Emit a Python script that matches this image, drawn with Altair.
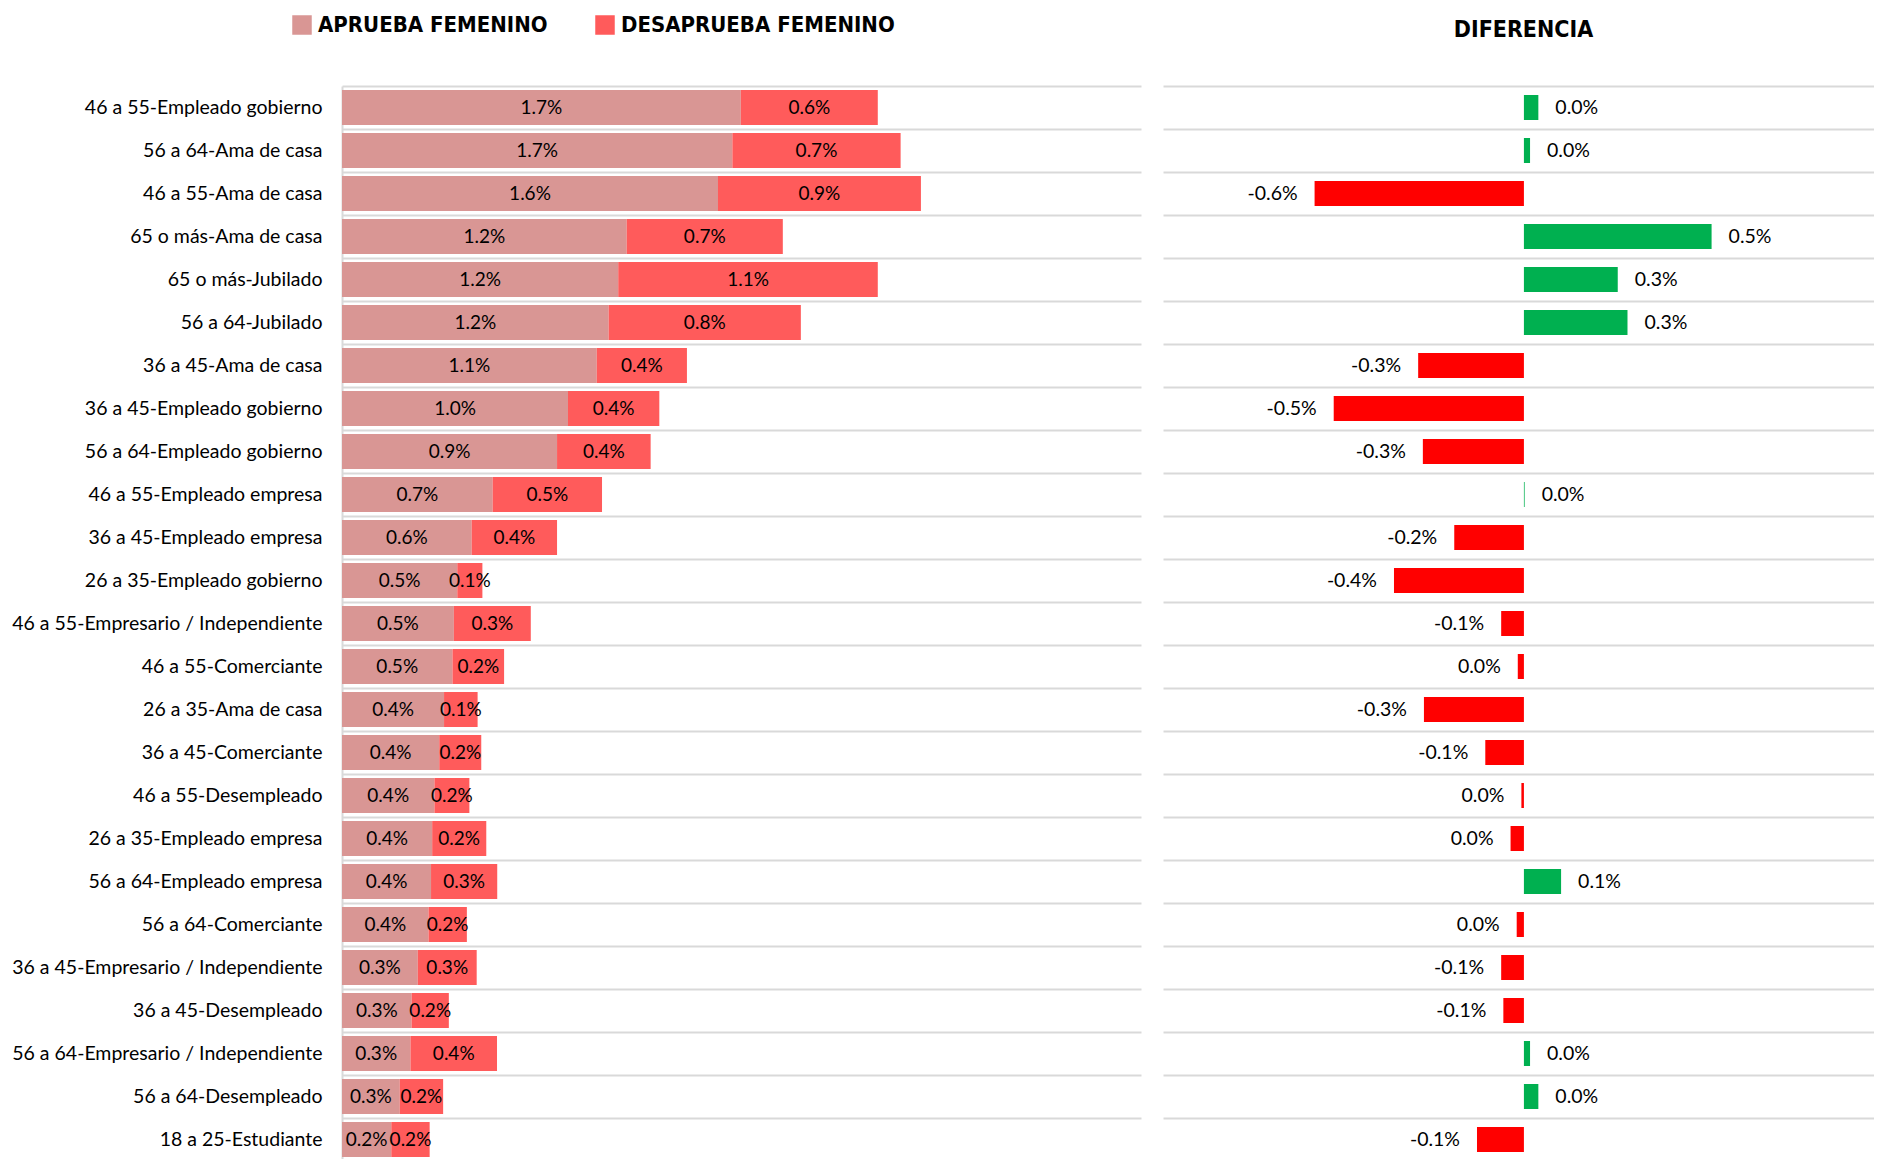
import altair as alt
import pandas as pd

categories = [
    "46 a 55-Empleado gobierno",
    "56 a 64-Ama de casa",
    "46 a 55-Ama de casa",
    "65 o más-Ama de casa",
    "65 o más-Jubilado",
    "56 a 64-Jubilado",
    "36 a 45-Ama de casa",
    "36 a 45-Empleado gobierno",
    "56 a 64-Empleado gobierno",
    "46 a 55-Empleado empresa",
    "36 a 45-Empleado empresa",
    "26 a 35-Empleado gobierno",
    "46 a 55-Empresario / Independiente",
    "46 a 55-Comerciante",
    "26 a 35-Ama de casa",
    "36 a 45-Comerciante",
    "46 a 55-Desempleado",
    "26 a 35-Empleado empresa",
    "56 a 64-Empleado empresa",
    "56 a 64-Comerciante",
    "36 a 45-Empresario / Independiente",
    "36 a 45-Desempleado",
    "56 a 64-Empresario / Independiente",
    "56 a 64-Desempleado",
    "18 a 25-Estudiante",
]

# values in percent
aprueba = [1.747, 1.71, 1.647, 1.247, 1.21, 1.168, 1.116, 0.99, 0.942, 0.66,
           0.568, 0.505, 0.49, 0.484, 0.447, 0.426, 0.405, 0.395, 0.39, 0.379,
           0.332, 0.305, 0.30, 0.253, 0.216]
desaprueba = [0.60, 0.737, 0.889, 0.684, 1.137, 0.842, 0.395, 0.40, 0.41, 0.479,
              0.374, 0.11, 0.337, 0.226, 0.147, 0.184, 0.153, 0.237, 0.29, 0.168,
              0.258, 0.163, 0.379, 0.19, 0.168]
diferencia = [0.04, 0.017, -0.58, 0.52, 0.26, 0.287, -0.293, -0.527, -0.28, 0.002,
              -0.193, -0.36, -0.063, -0.017, -0.277, -0.107, -0.007, -0.037, 0.103, -0.02,
              -0.063, -0.057, 0.017, 0.04, -0.13]

SER_A = "APRUEBA FEMENINO"
SER_D = "DESAPRUEBA FEMENINO"
series_names = [SER_A, SER_D]
series_colors = ["#d99694", "#ff5b5b"]

rows = []
for c, a, d in zip(categories, aprueba, desaprueba):
    rows.append({"cat": c, "serie": SER_A, "v": a / 100, "start": 0.0, "end": a / 100})
    rows.append({"cat": c, "serie": SER_D, "v": d / 100, "start": a / 100, "end": (a + d) / 100})
df = pd.DataFrame(rows)
df["mid"] = (df["start"] + df["end"]) / 2

dfd = pd.DataFrame({"cat": categories, "d": [v / 100 for v in diferencia]})

STEP = 43
H = STEP * len(categories)
GRID = "#d9d9d9"
FONT = "Lato"
HEAD = "'DejaVu Sans Condensed', 'Roboto Condensed', Roboto, sans-serif"

y_left = alt.Y(
    "cat:N", sort=categories, title=None,
    scale=alt.Scale(domain=categories, paddingInner=0, paddingOuter=0),
    axis=alt.Axis(labelFont=FONT, labelFontSize=19.5, labelColor="#000000",
                  labelPadding=20, ticks=False, domain=True, domainColor=GRID,
                  domainWidth=2, grid=True, gridColor=GRID, gridWidth=2,
                  bandPosition=0, labelLimit=500),
)

base_l = alt.Chart(df)
bars_l = base_l.mark_bar(size=35).encode(
    y=y_left,
    x=alt.X("start:Q", scale=alt.Scale(domain=[0, 0.035]), axis=None),
    x2="end:Q",
    color=alt.Color(
        "serie:N",
        scale=alt.Scale(domain=series_names, range=series_colors),
        legend=alt.Legend(title=None, orient="none", legendX=-51, legendY=-72,
                          direction="horizontal", symbolType="square",
                          symbolSize=380, symbolStrokeWidth=0, symbolOpacity=1,
                          labelFont=HEAD, labelFontWeight="bold", labelFontSize=22,
                          labelColor="#000000", columnPadding=46, labelOffset=5,
                          labelLimit=600),
    ),
)
text_l = base_l.mark_text(font=FONT, fontSize=19, color="#000000").encode(
    y=y_left,
    x=alt.X("mid:Q", scale=alt.Scale(domain=[0, 0.035]), axis=None),
    text=alt.Text("v:Q", format=".1%"),
)
left = alt.layer(bars_l, text_l).properties(width=799, height=H)

y_right = alt.Y(
    "cat:N", sort=categories, title=None,
    scale=alt.Scale(domain=categories, paddingInner=0, paddingOuter=0),
    axis=alt.Axis(labels=False, ticks=False, domain=False, grid=True,
                  gridColor=GRID, gridWidth=2, bandPosition=0),
)
xr = alt.X("d:Q", scale=alt.Scale(domain=[-0.01, 0.0097]), axis=None)
base_r = alt.Chart(dfd).transform_calculate(
    lab="replace(format(datum.d, '.1%'), '\u2212', '-')"
)
bars_r = base_r.mark_bar(size=25).encode(
    y=y_right, x=xr,
    color=alt.condition("datum.d >= 0", alt.value("#00b050"), alt.value("#ff0000")),
)
pos_t = base_r.transform_filter("datum.d >= 0").mark_text(
    font=FONT, fontSize=19.5, color="#000000", align="left", dx=17
).encode(y=y_right, x=xr, text="lab:N")
neg_t = base_r.transform_filter("datum.d < 0").mark_text(
    font=FONT, fontSize=19.5, color="#000000", align="right", dx=-17
).encode(y=y_right, x=xr, text="lab:N")
right = alt.layer(bars_r, pos_t, neg_t).properties(
    width=711, height=H,
    title=alt.Title("DIFERENCIA", font=HEAD, fontWeight="bold", fontSize=23,
                    color="#000000", anchor="middle", offset=44, dx=5),
)

chart = alt.hconcat(left, right, spacing=22, bounds="flush").resolve_scale(
    y="independent", x="independent", color="independent"
).properties(
    padding={"left": 3, "top": 6, "right": 0, "bottom": 0},
    background="#ffffff",
).configure_view(stroke=None)

chart.save("out.html", embed_options={"renderer": "svg", "actions": False})
